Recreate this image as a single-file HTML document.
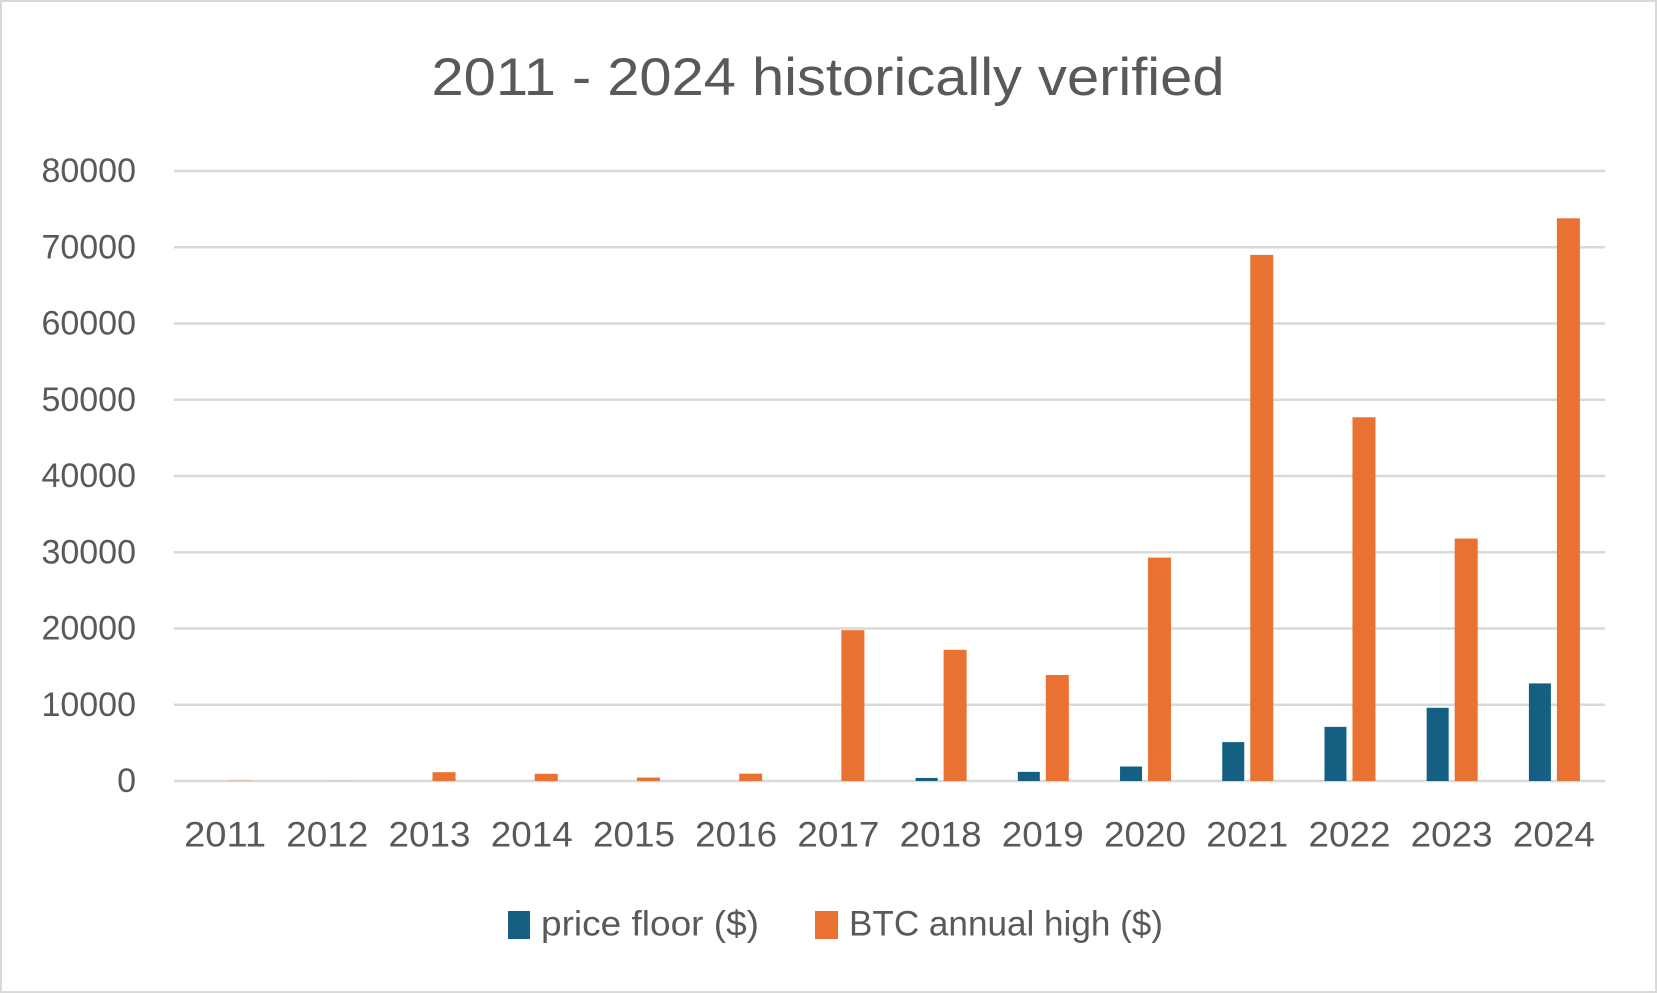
<!DOCTYPE html>
<html><head><meta charset="utf-8"><style>
html,body{margin:0;padding:0;background:#fff}
svg{display:block;font-family:"Liberation Sans",sans-serif}
</style></head><body>
<svg id="chart" width="1657" height="993" viewBox="0 0 1657 993">
<rect x="1" y="1" width="1655" height="991" fill="#fff" stroke="#d9d9d9" stroke-width="2"/>
<text x="828" y="95" text-anchor="middle" font-size="53" fill="#595959" textLength="793" lengthAdjust="spacingAndGlyphs">2011 - 2024 historically verified</text>
<g id="grid"></g>
<g id="yaxis"></g>
<g id="bars"></g>
<g id="xaxis"></g>
<g>
<g>
<rect x="508" y="911" width="22" height="28" fill="#156082"/>
<text x="541" y="924" dominant-baseline="central" font-size="35" fill="#595959" textLength="218" lengthAdjust="spacingAndGlyphs">price floor ($)</text>
</g>
<g>
<rect x="815" y="911" width="23" height="28" fill="#e97132"/>
<text x="849" y="924" dominant-baseline="central" font-size="35" fill="#595959" textLength="314" lengthAdjust="spacingAndGlyphs">BTC annual high ($)</text>
</g>
</g>
</svg>
<script>
const categories = ["2011","2012","2013","2014","2015","2016","2017","2018","2019","2020","2021","2022","2023","2024"];
const priceFloor = [0,0,0,0,0,0,0,400,1200,1900,5100,7100,9600,12800];
const btcHigh = [30,15,1150,950,450,960,19780,17200,13900,29300,69000,47700,31800,73800];
const yTicks = [0,10000,20000,30000,40000,50000,60000,70000,80000];

(function(){
const NS = "http://www.w3.org/2000/svg";
const plotLeft = 174, plotRight = 1605, plotTop = 171, plotBottom = 781, yMax = 80000;
const band = (plotRight - plotLeft) / categories.length;
const barW = 22, gap = 6;
function yScale(v){ return plotBottom - (v / yMax) * (plotBottom - plotTop); }
function xCenter(i){ return plotLeft + band * (i + 0.5); }
function mk(tag, attrs, parent){
  const el = document.createElementNS(NS, tag);
  for (const k in attrs) el.setAttribute(k, attrs[k]);
  parent.appendChild(el);
  return el;
}
const grid = document.getElementById('grid');
const yaxis = document.getElementById('yaxis');
const bars = document.getElementById('bars');
const xaxis = document.getElementById('xaxis');
yTicks.forEach(t => {
  const y = yScale(t);
  const ln = mk('line', {x1:plotLeft, x2:plotRight, y1:y, y2:y, stroke:'#d9d9d9', 'stroke-width':2.5}, grid);
  
  
  const tx = mk('text', {x:136, y:y, 'text-anchor':'end', 'dominant-baseline':'central', 'font-size':34, fill:'#595959'}, yaxis);
  tx.textContent = String(t);
  
  
});
categories.forEach((c, i) => {
  const cx = xCenter(i);
  const yb = yScale(priceFloor[i]);
  const b1 = mk('rect', {x:cx - gap/2 - barW, y:yb, width:barW, height:Math.max(0, plotBottom - yb), fill:'#156082'}, bars);
  
  
  const yo = yScale(btcHigh[i]);
  const b2 = mk('rect', {x:cx + gap/2, y:yo, width:barW + 1, height:Math.max(0, plotBottom - yo), fill:'#e97132'}, bars);
  
  
  const tx = mk('text', {x:cx, y:835, 'text-anchor':'middle', 'dominant-baseline':'central', 'font-size':35, fill:'#595959', textLength:82, lengthAdjust:'spacingAndGlyphs'}, xaxis);
  tx.textContent = c;
  
  
});
})();
</script>
</body></html>
